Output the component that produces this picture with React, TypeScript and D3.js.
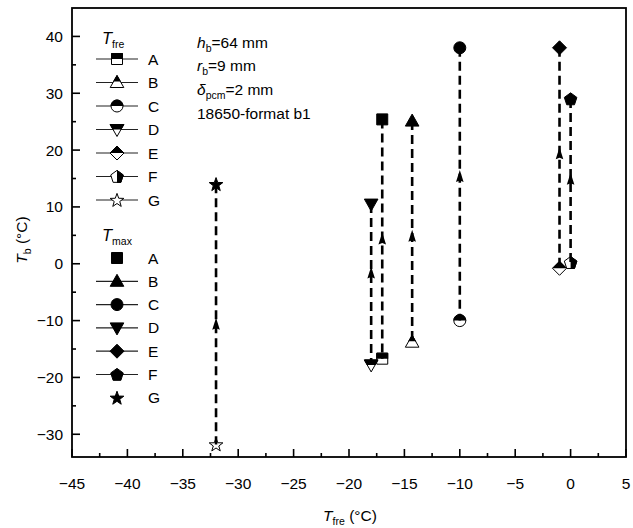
import React from 'react';
import * as d3 from 'd3';

const groups = ['A', 'B', 'C', 'D', 'E', 'F', 'G'];
const shapes = ['square', 'triUp', 'circle', 'triDown', 'diamond', 'pentagon', 'star'];
// freezing temperature (x) of each case
const tFreX = [-17, -14.3, -10, -18, -1, 0, -32];
// battery temperature at freezing point (lower marker)
const tFreY = [-16.7, -13.8, -10, -17.8, -0.8, 0.2, -31.8];
// maximum battery temperature (upper marker)
const tMaxY = [25.4, 25.1, 38, 10.5, 38, 29, 14];
// where the arrow head sits on each dashed line
const arrowY = [5.5, 6, 16.5, -0.5, 20.5, 16, -9.5];
// legend rows of the T_max block that show a line segment
const tMaxLegendLine = [false, true, true, true, true, true, false];

const xTicks = [-45, -40, -35, -30, -25, -20, -15, -10, -5, 0, 5];
const yTicks = [-30, -20, -10, 0, 10, 20, 30, 40];
const xMinor = d3.range(-42.5, 5, 5);
const yMinor = d3.range(-25, 45, 10);

const W = 633, H = 528;
const left = 72, right = 626, top = 8, bottom = 457;
const FONT = 'Liberation Sans, Arial, sans-serif';

function shapePath(type: string): string {
  switch (type) {
    case 'square':
      return 'M-5.5,-5.5H5.5V5.5H-5.5Z';
    case 'triUp':
      return 'M0,-7L6.8,5L-6.8,5Z';
    case 'triDown':
      return 'M0,7L6.8,-5L-6.8,-5Z';
    case 'circle':
      return 'M6,0A6,6 0 1,1 -6,0A6,6 0 1,1 6,0Z';
    case 'diamond':
      return 'M0,-7L7,0L0,7L-7,0Z';
    case 'pentagon': {
      const pts = d3.range(5).map(i => {
        const a = -Math.PI / 2 + (i * 2 * Math.PI) / 5;
        return [6.6 * Math.cos(a), 6.6 * Math.sin(a) + 0.5];
      });
      return 'M' + pts.map(p => p.join(',')).join('L') + 'Z';
    }
    case 'star': {
      const pts = d3.range(10).map(i => {
        const r = i % 2 === 0 ? 7.2 : 2.9;
        const a = -Math.PI / 2 + (i * Math.PI) / 5;
        return [r * Math.cos(a), r * Math.sin(a) + 0.6];
      });
      return 'M' + pts.map(p => p.join(',')).join('L') + 'Z';
    }
  }
  return '';
}

function Marker({ type, x, y, mode }: { type: string; x: number; y: number; mode: 'full' | 'half' | 'open' }) {
  const d = shapePath(type);
  const clip = type === 'pentagon' ? 'url(#clipRight)' : type === 'triUp' ? 'url(#clipTopTri)' : 'url(#clipTop)';
  return (
    <g transform={`translate(${x},${y})`}>
      <path d={d} fill={mode === 'full' ? '#000' : '#fff'} stroke="#000" strokeWidth={1} />
      {mode === 'half' && <path d={d} fill="#000" stroke="#000" strokeWidth={1} clipPath={clip} />}
    </g>
  );
}

export default function App() {
  const x = d3.scaleLinear().domain([-45, 5]).range([left, right]);
  const y = d3.scaleLinear().domain([-34, 45]).range([bottom, top]);

  const legX = 117;
  const legLine: [number, number] = [96, 138];
  const legLabelX = 148;
  const freRows = groups.map((_, i) => 59 + i * 23.5);
  const maxRows = groups.map((_, i) => 258 + i * 23.3);

  return (
    <svg width={W} height={H} style={{ position: 'absolute', left: 0, top: 0, background: '#fff' }} fontFamily={FONT}>
      <defs>
        <clipPath id="clipTop" clipPathUnits="userSpaceOnUse">
          <rect x={-12} y={-12} width={24} height={12} />
        </clipPath>
        <clipPath id="clipTopTri" clipPathUnits="userSpaceOnUse">
          <rect x={-12} y={-12} width={24} height={11} />
        </clipPath>
        <clipPath id="clipRight" clipPathUnits="userSpaceOnUse">
          <rect x={0} y={-12} width={12} height={24} />
        </clipPath>
      </defs>
      <rect x={0} y={0} width={W} height={H} fill="#fff" />

      {/* axes ticks */}
      {xTicks.map(t => (
        <g key={'xt' + t}>
          <line x1={x(t)} x2={x(t)} y1={bottom} y2={bottom - 8} stroke="#000" strokeWidth={1.6} />
          <text x={x(t)} y={489} fontSize={15.5} textAnchor="middle">{t < 0 ? '\u2212' + Math.abs(t) : t}</text>
        </g>
      ))}
      {xMinor.map(t => (
        <line key={'xm' + t} x1={x(t)} x2={x(t)} y1={bottom} y2={bottom - 4} stroke="#000" strokeWidth={1.6} />
      ))}
      {yTicks.map(t => (
        <g key={'yt' + t}>
          <line x1={left} x2={left + 8} y1={y(t)} y2={y(t)} stroke="#000" strokeWidth={1.6} />
          <text x={63} y={y(t) + 5.5} fontSize={15.5} textAnchor="end">{t < 0 ? '\u2212' + Math.abs(t) : t}</text>
        </g>
      ))}
      {yMinor.map(t => (
        <line key={'ym' + t} x1={left} x2={left + 4} y1={y(t)} y2={y(t)} stroke="#000" strokeWidth={1.6} />
      ))}

      {/* frame */}
      <rect x={left} y={top} width={right - left} height={bottom - top} fill="none" stroke="#000" strokeWidth={1.8} />

      {/* axis titles */}
      <text x={350} y={521} fontSize={15.5} textAnchor="middle">
        <tspan fontStyle="italic">T</tspan>
        <tspan fontSize={10.5} dy={4}>fre</tspan>
        <tspan dy={-4}> (°C)</tspan>
      </text>
      <text transform="translate(27,240) rotate(-90)" fontSize={15.5} textAnchor="middle">
        <tspan fontStyle="italic">T</tspan>
        <tspan fontSize={10.5} dy={4}>b</tspan>
        <tspan dy={-4}> (°C)</tspan>
      </text>

      {/* annotation */}
      <g fontSize={15.5}>
        <text x={197} y={48}>
          <tspan fontStyle="italic">h</tspan>
          <tspan fontSize={10.5} dy={4}>b</tspan>
          <tspan dy={-4}>=64 mm</tspan>
        </text>
        <text x={197} y={71}>
          <tspan fontStyle="italic">r</tspan>
          <tspan fontSize={10.5} dy={4}>b</tspan>
          <tspan dy={-4}>=9 mm</tspan>
        </text>
        <text x={197} y={95}>
          <tspan fontStyle="italic">δ</tspan>
          <tspan fontSize={10.5} dy={4}>pcm</tspan>
          <tspan dy={-4}>=2 mm</tspan>
        </text>
        <text x={197} y={119}>18650-format b1</text>
      </g>

      {/* data: low markers, dashed lines, arrows, high markers */}
      {groups.map((g, i) => (
        <Marker key={'lo' + g} type={shapes[i]} x={x(tFreX[i])} y={y(tFreY[i])} mode={i === 6 ? 'open' : 'half'} />
      ))}
      {groups.map((g, i) => (
        <line key={'ln' + g} x1={x(tFreX[i])} x2={x(tFreX[i])} y1={y(tMaxY[i])} y2={y(tFreY[i])}
          stroke="#000" strokeWidth={2.6} strokeDasharray="9,5" />
      ))}
      {groups.map((g, i) => (
        <path key={'ar' + g} transform={`translate(${x(tFreX[i])},${y(arrowY[i])})`}
          d="M0,0L3.8,12L0,10.5L-3.8,12Z" fill="#000" />
      ))}
      {groups.map((g, i) => (
        <Marker key={'hi' + g} type={shapes[i]} x={x(tFreX[i])} y={y(tMaxY[i])} mode="full" />
      ))}

      {/* legend: T_fre */}
      <text x={102} y={44} fontSize={15.5}>
        <tspan fontStyle="italic" fontSize={16.5}>T</tspan>
        <tspan fontSize={10.5} dy={4}>fre</tspan>
      </text>
      {groups.map((g, i) => (
        <g key={'lf' + g}>
          <line x1={legLine[0]} x2={legLine[1]} y1={freRows[i]} y2={freRows[i]} stroke="#222" strokeWidth={1.2} />
          <Marker type={shapes[i]} x={legX} y={freRows[i]} mode={i === 6 ? 'open' : 'half'} />
          <text x={legLabelX} y={freRows[i] + 5.5} fontSize={15.5}>{g}</text>
        </g>
      ))}

      {/* legend: T_max */}
      <text x={102} y={241} fontSize={15.5}>
        <tspan fontStyle="italic" fontSize={16.5}>T</tspan>
        <tspan fontSize={10.5} dy={4}>max</tspan>
      </text>
      {groups.map((g, i) => (
        <g key={'lm' + g}>
          {tMaxLegendLine[i] && (
            <line x1={legLine[0]} x2={legLine[1]} y1={maxRows[i]} y2={maxRows[i]} stroke="#222" strokeWidth={1.2} />
          )}
          <Marker type={shapes[i]} x={legX} y={maxRows[i]} mode="full" />
          <text x={legLabelX} y={maxRows[i] + 5.5} fontSize={15.5}>{g}</text>
        </g>
      ))}
    </svg>
  );
}
